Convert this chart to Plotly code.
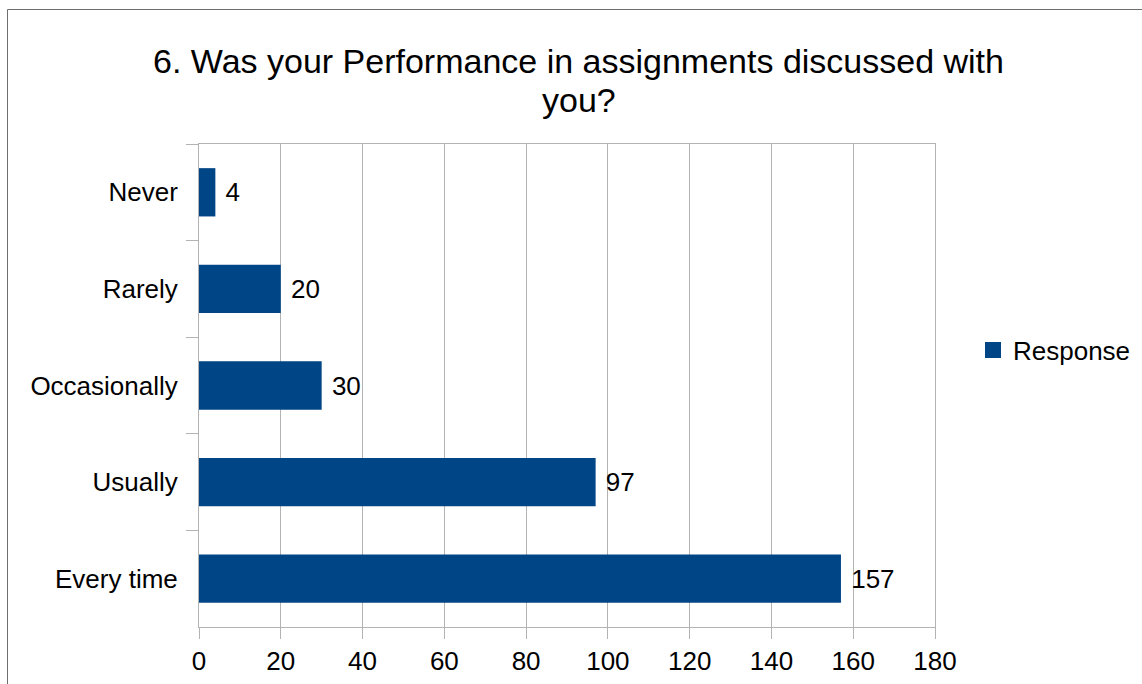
import plotly.graph_objects as go

categories = ["Never", "Rarely", "Occasionally", "Usually", "Every time"]
responses = [4, 20, 30, 97, 157]
series_name = "Response"
x_ticks = [0, 20, 40, 60, 80, 100, 120, 140, 160, 180]
title_line1 = "6. Was your Performance in assignments discussed with"
title_line2 = "you?"

W, H = 1142, 684
L, R, T, B = 199, 935, 144, 627
FONT = "Liberation Sans, Arial, sans-serif"
GRID = "#b3b3b3"
BAR_COLOR = "#004586"

def px_x(p):
    return (p - L) / (R - L)

def px_y(p):
    return (B - p) / (B - T)

fig = go.Figure()
fig.add_trace(go.Bar(
    y=categories, x=responses, orientation="h", name=series_name,
    marker=dict(color=BAR_COLOR, line=dict(width=0)),
    width=0.5,
    text=responses, texttemplate=" %{x}", textposition="outside",
    textfont=dict(family=FONT, size=26, color="#000000"),
    cliponaxis=False, showlegend=False, legendgroup="resp",
))
# legend entry (square key like the original)
fig.add_trace(go.Scatter(
    x=[None], y=[None], mode="markers", name=series_name, legendgroup="resp",
    marker=dict(symbol="square", size=17, color=BAR_COLOR, line=dict(width=0)),
    showlegend=True, hoverinfo="skip",
))

fig.update_layout(
    width=W, height=H, autosize=False,
    margin=dict(l=L, r=W - R, t=T, b=H - B, pad=0, autoexpand=False),
    paper_bgcolor="white", plot_bgcolor="white",
    font=dict(family=FONT, size=26, color="#000000"),
    title=dict(text=title_line1, x=578.5 / W, xanchor="center",
               y=1 - 61 / H, yanchor="middle",
               font=dict(family=FONT, size=34, color="#000000")),
    showlegend=True,
    legend=dict(x=px_x(973), y=px_y(350), xanchor="left", yanchor="middle",
                font=dict(family=FONT, size=26, color="#000000"),
                bgcolor="rgba(0,0,0,0)", itemwidth=30, itemsizing="trace"),
    bargap=0.5,
)
fig.add_annotation(text=title_line2, xref="paper", yref="paper",
                   x=px_x(578.5), y=px_y(100), xanchor="center", yanchor="middle",
                   showarrow=False, font=dict(family=FONT, size=34, color="#000000"))

fig.update_xaxes(range=[0, 180], tickvals=x_ticks, showgrid=True, gridcolor=GRID, gridwidth=1,
                 showline=True, linecolor=GRID, linewidth=1, mirror=True,
                 ticks="outside", ticklen=11, tickcolor=GRID, tickwidth=1,
                 zeroline=False, tickfont=dict(family=FONT, size=26, color="#000000"),
                 automargin=False, fixedrange=True)
fig.update_yaxes(autorange="reversed", showgrid=False,
                 showline=True, linecolor=GRID, linewidth=1, mirror=True,
                 ticks="outside", ticklen=12, tickcolor=GRID, tickwidth=1,
                 tickson="boundaries", ticklabelstandoff=15,
                 tickfont=dict(family=FONT, size=26, color="#000000"),
                 automargin=False, fixedrange=True)

# outer chart border (extends beyond the visible image at right/bottom)
fig.add_shape(type="rect", xref="paper", yref="paper",
              x0=px_x(7.5), x1=px_x(1200), y0=px_y(700), y1=px_y(9.5),
              line=dict(color="#6e6e6e", width=1), fillcolor="rgba(0,0,0,0)", layer="above")

fig.write_html("out.html", config={"responsive": False, "displayModeBar": False},
               post_script="document.body.style.margin='0';document.body.style.overflow='hidden';")
